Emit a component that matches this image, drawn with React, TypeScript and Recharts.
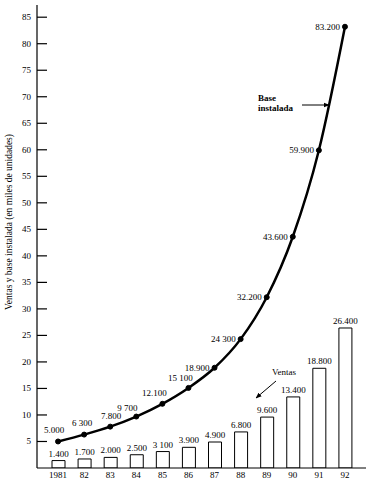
import React from 'react';
import { ComposedChart, Bar, Line, XAxis, YAxis, LabelList, Customized } from 'recharts';

const years = ['1981', '82', '83', '84', '85', '86', '87', '88', '89', '90', '91', '92'];
const ventas = [1.4, 1.7, 2.0, 2.5, 3.1, 3.9, 4.9, 6.8, 9.6, 13.4, 18.8, 26.4];
const baseInstalada = [5.0, 6.3, 7.8, 9.7, 12.1, 15.1, 18.9, 24.3, 32.2, 43.6, 59.9, 83.2];
const ventasLabels = ['1.400', '1.700', '2.000', '2.500', '3 100', '3.900', '4.900', '6.800', '9.600', '13.400', '18.800', '26.400'];
const baseLabels = ['5.000', '6 300', '7.800', '9 700', '12.100', '15 100', '18.900', '24 300', '32.200', '43.600', '59.900', '83.200'];
const yTicks = [5, 10, 15, 20, 25, 30, 35, 40, 45, 50, 55, 60, 65, 70, 75, 80, 85];

const data = years.map((y, i) => ({
  year: y,
  ventas: ventas[i],
  base: baseInstalada[i],
  vl: ventasLabels[i],
  bl: baseLabels[i],
}));

const FONT = '"Liberation Serif", "DejaVu Serif", serif';

const YTick = (props: any) => {
  const { x, y, payload } = props;
  return (
    <g>
      <line x1={x} y1={y} x2={x + 10} y2={y} stroke="#000" strokeWidth={1.2} />
      <text x={x - 6} y={y} dy={3} textAnchor="end" fontSize={9} fontFamily={FONT} fill="#000">
        {payload.value}
      </text>
    </g>
  );
};

const XTick = (props: any) => {
  const { x, y, payload } = props;
  return (
    <text x={x} y={y + 10} textAnchor="middle" fontSize={9} fontFamily={FONT} fill="#000">
      {payload.value}
    </text>
  );
};

const lowDx = [-4, -2, 1, -9, -8, -8];
const lowDy = [-8, -9, -8, -6, -8, -7];

const BaseLabel = (props: any) => {
  const { x, y, index, value } = props;
  if (index < 6) {
    return (
      <text x={x + lowDx[index]} y={y + lowDy[index]} textAnchor="middle" fontSize={9} fontFamily={FONT} fill="#000">
        {value}
      </text>
    );
  }
  return (
    <text x={x - 5} y={y + 3} textAnchor="end" fontSize={9} fontFamily={FONT} fill="#000">
      {value}
    </text>
  );
};

const BarLabel = (props: any) => {
  const { x, y, width, value } = props;
  return (
    <text x={x + width / 2} y={y - 4} textAnchor="middle" fontSize={9} fontFamily={FONT} fill="#000">
      {value}
    </text>
  );
};

const Annotations = () => (
  <g>
    <defs>
      <marker id="arr" viewBox="0 0 10 10" refX="9" refY="5" markerWidth="6" markerHeight="6" orient="auto">
        <path d="M0,1 L10,5 L0,9 z" fill="#000" />
      </marker>
    </defs>
    <text
      transform="translate(12,222) rotate(-90)"
      textAnchor="middle"
      fontSize={9.5}
      fontFamily={FONT}
      fill="#000"
    >
      Ventas y base instalada (en miles de unidades)
    </text>
    <text x={258} y={101} fontSize={9} fontWeight="bold" fontFamily={FONT} fill="#000">Base</text>
    <text x={258} y={111} fontSize={9} fontWeight="bold" fontFamily={FONT} fill="#000">instalada</text>
    <line x1={302} y1={105} x2={329} y2={105} stroke="#000" strokeWidth={1} markerEnd="url(#arr)" />
    <text x={284} y={375} textAnchor="middle" fontSize={9} fontFamily={FONT} fill="#000">Ventas</text>
    <line x1={276} y1={381} x2={256} y2={398} stroke="#000" strokeWidth={1} markerEnd="url(#arr)" />
  </g>
);

export default function App() {
  return (
    <div style={{ position: 'absolute', left: 0, top: 0, background: '#fff' }}>
      <ComposedChart
        width={372}
        height={486}
        data={data}
        margin={{ top: 5, right: 6, left: 0, bottom: 0 }}
      >
        <XAxis
          dataKey="year"
          height={18}
          tickLine={false}
          axisLine={{ stroke: '#000', strokeWidth: 1.2 }}
          tickSize={0}
          tickMargin={0}
          tick={<XTick />}
          padding={{ left: 8, right: 8 }}
          interval={0}
        />
        <YAxis
          width={37}
          domain={[0, 87.3]}
          ticks={yTicks}
          tickLine={false}
          tickSize={0}
          tickMargin={0}
          axisLine={{ stroke: '#000', strokeWidth: 1.2 }}
          tick={<YTick />}
          allowDataOverflow
        />
        <Bar dataKey="ventas" barSize={13} fill="#fff" stroke="#000" strokeWidth={1} isAnimationActive={false}>
          <LabelList dataKey="vl" content={<BarLabel />} />
        </Bar>
        <Line
          type="monotone"
          dataKey="base"
          stroke="#000"
          strokeWidth={2.5}
          dot={{ r: 2.5, fill: '#000', stroke: '#000', strokeWidth: 1 }}
          isAnimationActive={false}
        >
          <LabelList dataKey="bl" content={<BaseLabel />} />
        </Line>
        <Customized component={Annotations} />
      </ComposedChart>
    </div>
  );
}
